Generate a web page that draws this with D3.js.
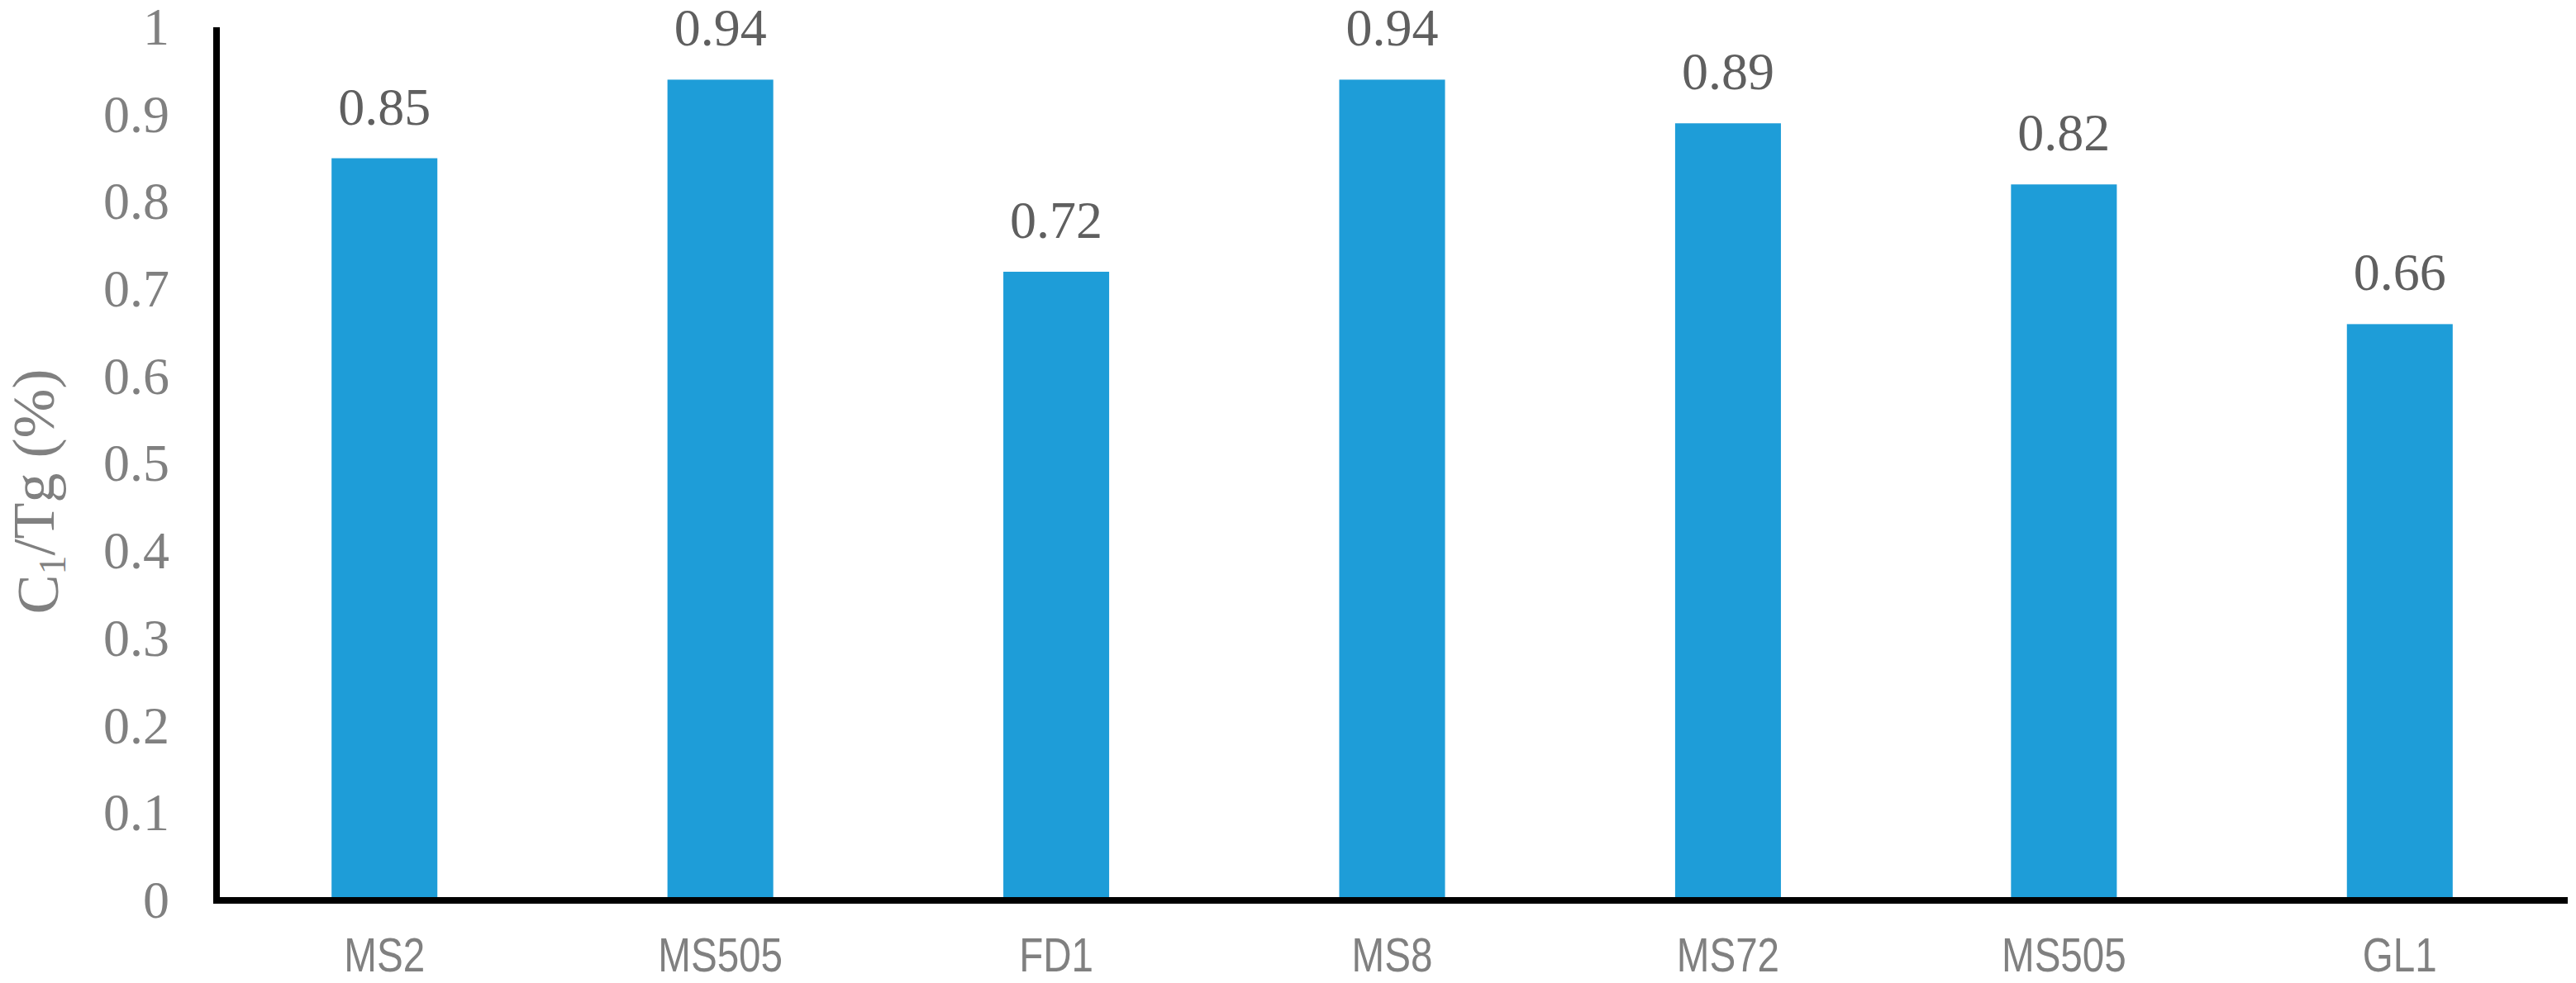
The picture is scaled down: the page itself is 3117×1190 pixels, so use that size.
<!DOCTYPE html>
<html>
<head>
<meta charset="utf-8">
<script src="https://cdn.jsdelivr.net/npm/d3@7"></script>
<style>
  body { margin: 0; background: #fff; }
</style>
</head>
<body>
<svg id="chart"></svg>
<script>
var samples = ['MS2', 'MS505', 'FD1', 'MS8', 'MS72', 'MS505', 'GL1']
var ratios = [0.85, 0.94, 0.72, 0.94, 0.89, 0.82, 0.66]
var yTicks = [0, 0.1, 0.2, 0.3, 0.4, 0.5, 0.6, 0.7, 0.8, 0.9, 1]

var svg = d3.select('#chart').attr('width', 3117).attr('height', 1190)
var width = +svg.attr('width'),
    height = +svg.attr('height'),
    plotLeft = 262, plotRight = 3107, plotTop = 33, plotBottom = 1090

// band keys by index, since MS505 shows up twice
var x = d3.scaleBand()
    .domain(d3.range(samples.length))
    .range([plotLeft, plotRight])
    .paddingInner(0.685)
    .paddingOuter(0.3425)

var y = d3.scaleLinear().domain([0, 1]).range([plotBottom, plotTop])

svg.append('rect').attr('width', width).attr('height', height).attr('fill', '#fff')

svg.selectAll('rect.bar')
    .data(ratios)
  .enter().append('rect')
    .attr('class', 'bar')
    .attr('x', (d, i) => x(i))
    .attr('width', x.bandwidth())
    .attr('y', d => y(d))
    .attr('height', d => y(0) - y(d))
    .attr('fill', '#1e9dd8')

// value labels over the bars
svg.selectAll('text.val')
    .data(ratios)
  .enter().append('text')
    .attr('class', 'val')
    .attr('x', (d, i) => x(i) + x.bandwidth() / 2)
    .attr('y', d => y(d) - 41)
    .attr('text-anchor', 'middle')
    .style('font-family', '"Liberation Serif", "Times New Roman", serif')
    .style('font-size', '64px')
    .attr('fill', '#5f5f5f')
    .text(d => d)

// y axis
var yAxis = svg.append('g')
    .attr('transform', 'translate(' + plotLeft + ',0)')
    .call(d3.axisLeft(y).tickValues(yTicks).tickSize(0).tickPadding(57).tickFormat(d3.format('')))
yAxis.select('.domain').attr('stroke', '#000').attr('stroke-width', 8)
    .attr('d', 'M0,' + plotTop + 'V' + (plotBottom + 4))
yAxis.selectAll('text')
    .style('font-family', '"Liberation Serif", "Times New Roman", serif')
    .style('font-size', '64px')
    .attr('fill', '#808080')

// x axis
var xAxis = svg.append('g')
    .attr('transform', 'translate(0,' + plotBottom + ')')
    .call(d3.axisBottom(x).tickSize(0).tickPadding(45).tickFormat(i => samples[i]))
xAxis.select('.domain').attr('stroke', '#000').attr('stroke-width', 8)
    .attr('d', 'M' + (plotLeft - 4) + ',0H' + plotRight)
xAxis.selectAll('text')
    .style('font-family', '"Liberation Sans Narrow", "Arial Narrow", "Liberation Sans", sans-serif')
    .style('font-size', '58px')
    .attr('fill', '#808080')
    .each(function() {
        // no narrow face installed, squeeze the regular one
        var len = this.getComputedTextLength()
        d3.select(this).attr('textLength', len * 0.82).attr('lengthAdjust', 'spacingAndGlyphs')
    })

// axis title with subscript
var title = svg.append('text')
    .attr('transform', 'translate(70,595) rotate(-90)')
    .attr('text-anchor', 'middle')
    .style('font-family', '"Liberation Serif", "Times New Roman", serif')
    .style('font-size', '72px')
    .attr('fill', '#808080')
title.append('tspan').text('C')
title.append('tspan').attr('dy', '0.2em').style('font-size', '46px').text('1')
title.append('tspan').attr('dy', '-0.2em').text('/Tg (%)')
</script>
</body>
</html>
